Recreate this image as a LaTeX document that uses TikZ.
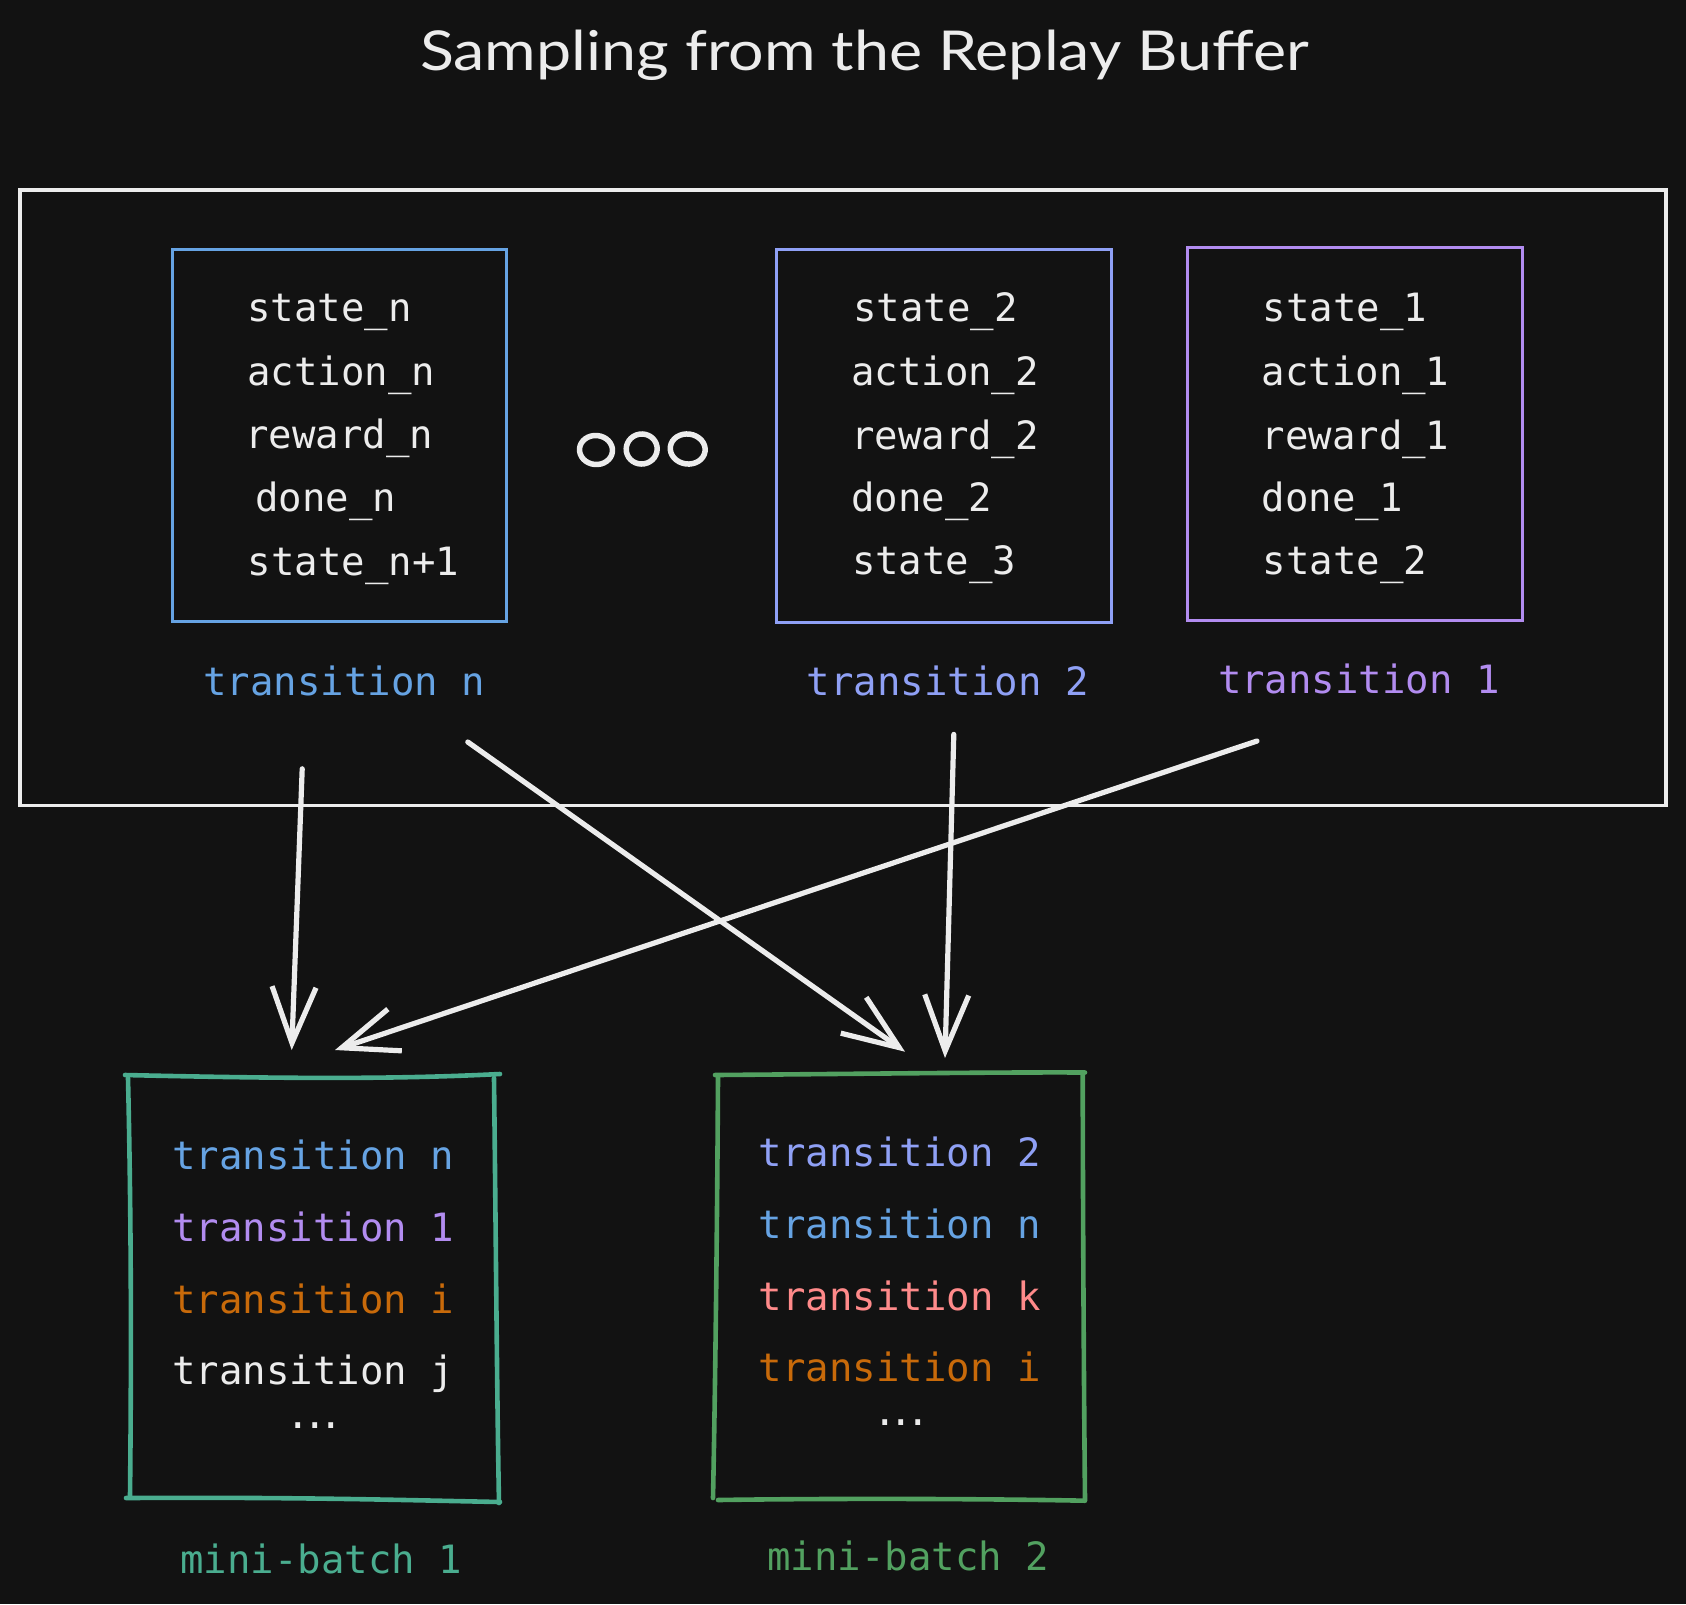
\documentclass[tikz,border=0pt]{standalone}
\usepackage{fontspec}
\setmainfont{DejaVu Sans}
\newfontfamily\monof{DejaVu Sans Mono}
\newfontfamily\titlef{Lato}
\usetikzlibrary{arrows.meta,shapes.geometric}
\definecolor{bg}{HTML}{121212}
\definecolor{fg}{HTML}{ECECEC}
\definecolor{blueN}{HTML}{66A3E3}
\definecolor{peri}{HTML}{8FA0F5}
\definecolor{purp}{HTML}{B28CF0}
\definecolor{orng}{HTML}{C86A0A}
\definecolor{pink}{HTML}{FF8A8A}
\definecolor{teal}{HTML}{4AAD8F}
\definecolor{grn}{HTML}{52A160}
\begin{document}
\begin{tikzpicture}[x=1pt,y=-1pt,
  txt/.style={anchor=base west,inner sep=0pt,font=\monof\fontsize{39}{46}\selectfont,text=fg},
  tbox/.style={draw=#1,line width=3pt,rectangle,inner sep=0pt},
  dotsn/.style={anchor=base,inner sep=0pt,font=\monof\fontsize{39}{46}\selectfont,text=fg},
  sketch/.style={draw=#1,line width=4.6pt,line cap=round,line join=round},
  conn/.style={draw=fg,line width=5.2pt,line cap=round,-{Straight Barb[length=56pt,width=44pt]}},
  ring/.style={draw=fg,line width=5.5pt,ellipse,inner sep=0pt}]
\fill[bg] (0,0) rectangle (1686,1604);
\useasboundingbox (0,0) rectangle (1686,1604);

% title
\node[anchor=base,inner sep=0pt,text=fg,font=\titlef\fontsize{55}{60}\selectfont] (title) at (864.5,70) {\scalebox{1.14}[1]{Sampling from the Replay Buffer}};

% outer buffer box
\node[draw=fg,line width=3.3pt,rectangle,inner sep=0pt,minimum width=1646pt,minimum height=615.5pt] (buffer) at (843,497.75) {};

% transition boxes
\node[tbox=blueN,minimum width=334pt,minimum height=372pt] (boxn) at (339.5,435.5) {};
\node[tbox=peri,minimum width=335.5pt,minimum height=372.5pt] (box2) at (943.75,435.75) {};
\node[tbox=purp,minimum width=334.5pt,minimum height=373pt] (box1) at (1354.75,434) {};

% box n text
\node[txt] (sn) at (247,321.7) {state\_n};
\node[txt] (an) at (247,385) {action\_n};
\node[txt] (rn) at (245,448) {reward\_n};
\node[txt] (dn) at (255,511.7) {done\_n};
\node[txt] (sn1) at (247.7,575) {state\_n+1};
% box 2 text
\node[txt] (s2) at (853.3,321.7) {state\_2};
\node[txt] (a2) at (850.9,385) {action\_2};
\node[txt] (r2) at (850.9,449) {reward\_2};
\node[txt] (d2) at (850.9,511.7) {done\_2};
\node[txt] (s3) at (851.8,574.3) {state\_3};
% box 1 text
\node[txt] (s1) at (1262.4,321.7) {state\_1};
\node[txt] (a1) at (1261.4,385) {action\_1};
\node[txt] (r1) at (1261.4,449) {reward\_1};
\node[txt] (d1) at (1261.4,511.7) {done\_1};
\node[txt] (s1b) at (1262.4,574.3) {state\_2};

% transition labels
\node[txt,text=blueN] (ltn) at (203,695) {transition n};
\node[txt,text=peri] (lt2) at (806.7,695) {transition 2};
\node[txt,text=purp] (lt1) at (1217.8,693.3) {transition 1};

% ellipsis rings
\node[ring,minimum width=33pt,minimum height=29pt,rotate=-5] (e1) at (596,450) {};
\node[ring,minimum width=31pt,minimum height=30pt,rotate=10] (e2) at (641.7,449) {};
\node[ring,minimum width=35pt,minimum height=30pt,rotate=-8] (e3) at (687.7,449) {};

% mini-batch 1 (sketchy box)
\node[rectangle,inner sep=0pt,minimum width=372pt,minimum height=426pt] (mb1) at (313,1288) {};
\draw[sketch=teal] (125,1075) .. controls (300,1079) and (400,1079) .. (500,1074);
\draw[sketch=teal] (494,1078) .. controls (496,1250) and (497,1400) .. (499,1503);
\draw[sketch=teal] (126,1498) .. controls (300,1497) and (400,1500) .. (500,1502);
\draw[sketch=teal] (128,1078) .. controls (132,1250) and (131,1400) .. (130,1497);
% mini-batch 2 (sketchy box)
\node[rectangle,inner sep=0pt,minimum width=370pt,minimum height=426pt] (mb2) at (900,1286) {};
\draw[sketch=grn] (715,1075) .. controls (850,1074) and (1000,1072) .. (1085,1072.5);
\draw[sketch=grn] (1082.7,1075) .. controls (1083,1250) and (1084,1400) .. (1085,1500);
\draw[sketch=grn] (718,1500) .. controls (850,1498) and (1000,1499) .. (1085,1500.7);
\draw[sketch=grn] (718,1076.7) .. controls (717,1250) and (715,1400) .. (713,1498);

% mini-batch 1 text
\node[txt,text=blueN] (m1a) at (172,1169.3) {transition n};
\node[txt,text=purp] (m1b) at (172,1241.7) {transition 1};
\node[txt,text=orng] (m1c) at (172,1313.3) {transition i};
\node[txt] (m1d) at (172,1384) {transition j};
\node[dotsn] (m1e) at (315,1428.3) {.\kern-7pt.\kern-7pt.};
% mini-batch 2 text
\node[txt,text=peri] (m2a) at (758.7,1166.7) {transition 2};
\node[txt,text=blueN] (m2b) at (758.7,1238.3) {transition n};
\node[txt,text=pink] (m2c) at (758.7,1310) {transition k};
\node[txt,text=orng] (m2d) at (758.7,1381.7) {transition i};
\node[dotsn] (m2e) at (901.7,1425) {.\kern-7pt.\kern-7pt.};

% mini-batch labels
\node[txt,text=teal] (lmb1) at (180.3,1573) {mini-batch 1};
\node[txt,text=grn] (lmb2) at (767,1570.7) {mini-batch 2};

% arrow end points
\coordinate (c1s) at (302.2,768.8);
\coordinate (c1e) at (291.7,1050);
\coordinate (c2s) at (467.8,742);
\coordinate (c2e) at (905,1051.7);
\coordinate (c3s) at (953.8,734.4);
\coordinate (c3e) at (945,1058);
\coordinate (c4s) at (1257,741);
\coordinate (c4e) at (335,1050);

\draw[conn] (c1s) -- (c1e);
\draw[conn] (c2s) -- (c2e);
\draw[conn] (c3s) -- (c3e);
\draw[conn] (c4s) -- (c4e);
\end{tikzpicture}
\end{document}
